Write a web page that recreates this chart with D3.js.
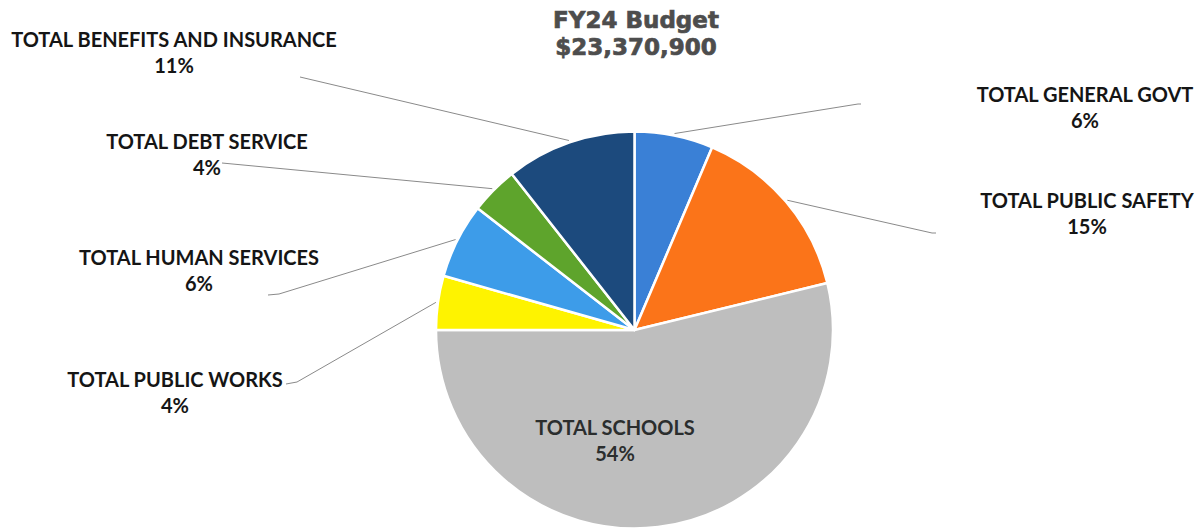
<!DOCTYPE html>
<html>
<head>
<meta charset="utf-8">
<script src="https://cdn.jsdelivr.net/npm/d3@7"></script>
<style>
  html, body { margin: 0; padding: 0; background: #fff; }
  svg { display: block; }
</style>
</head>
<body>
<svg id="chart" width="1196" height="529"></svg>
<script>
// ---- data ----
const categories = [
  "TOTAL GENERAL GOVT",
  "TOTAL PUBLIC SAFETY",
  "TOTAL SCHOOLS",
  "TOTAL PUBLIC WORKS",
  "TOTAL HUMAN SERVICES",
  "TOTAL DEBT SERVICE",
  "TOTAL BENEFITS AND INSURANCE"
];
const shares = [6.4, 14.8, 53.8, 4.4, 6.1, 3.9, 10.6];
const percentLabels = ["6%", "15%", "54%", "4%", "6%", "4%", "11%"];
const titleLines = ["FY24 Budget", "$23,370,900"];

// ---- styles / layout ----
const colors = ["#3a80d6", "#fb7419", "#bebebe", "#fef300", "#3d9ce9", "#5ea42c", "#1c4a7d"];
const W = 1196, H = 529;
const cx = 634.5, cy = 330, R = 198.5;
// label anchor (text centre x, first baseline y), and leader line end points
const labelLayout = [
  {x: 1085, y: 102, lead: [[858, 104], [861, 104]]},
  {x: 1087, y: 208, lead: [[932, 233], [936, 233]]},
  {x: 615,  y: 435, lead: null},
  {x: 175,  y: 387, lead: [[297, 382], [286, 384]]},
  {x: 199,  y: 265, lead: [[279, 294], [268, 295]]},
  {x: 207,  y: 149, lead: [[222, 163]]},
  {x: 174,  y: 47,  lead: [[300, 77]]}
];

const svg = d3.select("#chart");

// title
svg.append("g").selectAll("text").data(titleLines).join("text")
  .attr("x", 636).attr("y", (d, i) => 28 + i * 27)
  .attr("text-anchor", "middle")
  .attr("font-family", "DejaVu Sans")
  .attr("font-weight", "bold")
  .attr("font-size", 23)
  .attr("fill", "#4d4d4d")
  .attr("stroke", "#4d4d4d").attr("stroke-width", 0.7)
  .text(d => d);

const pie = d3.pie().value(d => d).sort(null).startAngle(0).endAngle(2 * Math.PI);
const arcs = pie(shares);
const arc = d3.arc().innerRadius(0).outerRadius(R);
const edgeArc = d3.arc().innerRadius(R + 2).outerRadius(R + 2);

const g = svg.append("g").attr("transform", `translate(${cx},${cy})`);
g.selectAll("path").data(arcs).join("path")
  .attr("d", arc)
  .attr("fill", (d, i) => colors[i])
  .attr("stroke", "#ffffff")
  .attr("stroke-width", 2.5)
  .attr("stroke-linejoin", "round");

// leader lines
const line = d3.line();
arcs.forEach((d, i) => {
  const L = labelLayout[i];
  if (!L.lead) return;
  const c = edgeArc.centroid(d);
  const pts = [[c[0] + cx, c[1] + cy]].concat(L.lead);
  svg.append("path")
    .attr("d", line(pts))
    .attr("fill", "none")
    .attr("stroke", "#8a8a8a")
    .attr("stroke-width", 1);
});

// labels
const lg = svg.append("g")
  .attr("font-family", "Lato, 'Open Sans', sans-serif")
  .attr("font-weight", "bold")
  .attr("font-size", 20)
  .attr("text-anchor", "middle");
categories.forEach((name, i) => {
  const L = labelLayout[i];
  const fill = i === 2 ? "#2b2e2e" : "#151515";
  lg.append("text").attr("x", L.x).attr("y", L.y).attr("fill", fill).text(name);
  lg.append("text").attr("x", L.x).attr("y", L.y + 26).attr("fill", fill).text(percentLabels[i]);
});
</script>
</body>
</html>
